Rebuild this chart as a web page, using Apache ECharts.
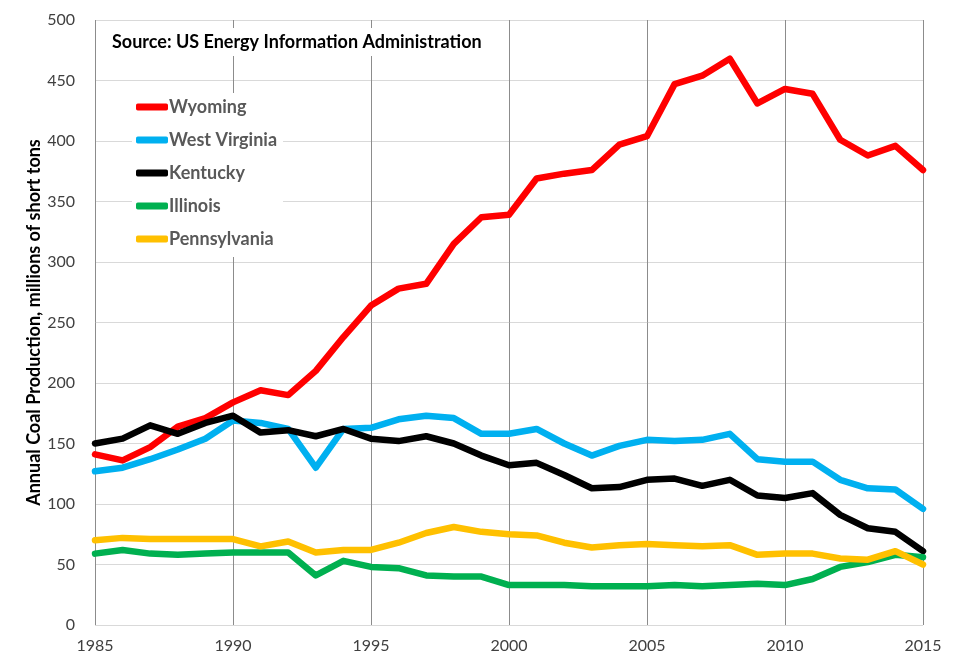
<!DOCTYPE html>
<html>
<head>
<meta charset="utf-8">
<title>Coal production by state</title>
<script src="https://cdn.jsdelivr.net/npm/echarts@6/dist/echarts.min.js"></script>
<style>
    html, body { margin: 0; padding: 0; background: #fff; }
    #chart { width: 960px; height: 666px; }
</style>
</head>
<body>
<div id="chart"></div>
<script>
const years = [1985, 1986, 1987, 1988, 1989, 1990, 1991, 1992, 1993, 1994, 1995, 1996, 1997, 1998, 1999,
    2000, 2001, 2002, 2003, 2004, 2005, 2006, 2007, 2008, 2009, 2010, 2011, 2012, 2013, 2014, 2015];

// millions of short tons
const wyoming = [141, 136, 147, 164, 171, 184, 194, 190, 210, 238, 264, 278, 282, 315, 337,
    339, 369, 373, 376, 397, 404, 447, 454, 468, 431, 443, 439, 401, 388, 396, 376];
const westVirginia = [127, 130, 137, 145, 154, 169, 167, 162, 130, 162, 163, 170, 173, 171, 158,
    158, 162, 150, 140, 148, 153, 152, 153, 158, 137, 135, 135, 120, 113, 112, 96];
const kentucky = [150, 154, 165, 158, 167, 173, 159, 161, 156, 162, 154, 152, 156, 150, 140,
    132, 134, 124, 113, 114, 120, 121, 115, 120, 107, 105, 109, 91, 80, 77, 61];
const illinois = [59, 62, 59, 58, 59, 60, 60, 60, 41, 53, 48, 47, 41, 40, 40,
    33, 33, 33, 32, 32, 32, 33, 32, 33, 34, 33, 38, 48, 52, 58, 56];
const pennsylvania = [70, 72, 71, 71, 71, 71, 65, 69, 60, 62, 62, 68, 76, 81, 77,
    75, 74, 68, 64, 66, 67, 66, 65, 66, 58, 59, 59, 55, 54, 61, 50];

const stateNames = ["Wyoming", "West Virginia", "Kentucky", "Illinois", "Pennsylvania"];
const stateValues = [wyoming, westVirginia, kentucky, illinois, pennsylvania];
const stateColors = ["#ff0000", "#00b0f0", "#000000", "#00b050", "#ffc000"];

const chart = echarts.init(document.getElementById("chart"));

const font = "Lato, 'Open Sans', sans-serif";

const option = {
    backgroundColor: "#fff",
    animation: false,
    title: {
        text: "Source: US Energy Information Administration",
        left: 96,
        top: 28,
        padding: [5, 18, 5, 16],
        backgroundColor: "#fff",
        textStyle: { fontFamily: font, fontSize: 18, fontWeight: "bold", color: "#000" }
    },
    legend: {
        orient: "vertical",
        left: 132,
        top: 93,
        padding: [4, 6, 8, 4],
        backgroundColor: "#fff",
        data: stateNames,
        icon: "roundRect",
        itemWidth: 32,
        itemHeight: 7,
        itemGap: 13,
        textStyle: { fontFamily: font, fontSize: 18, fontWeight: "bold", color: "#595959", lineHeight: 20, padding: [0, 0, 0, -4] }
    },
    grid: { left: 95, right: 37, top: 20, bottom: 41 },
    xAxis: {
        type: "value",
        min: 1985,
        max: 2015,
        interval: 5,
        axisLine: { show: false },
        axisTick: { show: false },
        axisLabel: { fontFamily: font, fontSize: 16, color: "#404040", margin: 13, formatter: v => String(v) },
        splitLine: { show: true, lineStyle: { color: "#8c8c8c", width: 1 } }
    },
    yAxis: {
        type: "value",
        min: 0,
        max: 500,
        interval: 50,
        name: "Annual Coal Production, millions of short tons",
        nameLocation: "middle",
        nameGap: 52,
        nameMoveOverlap: false,
        nameTextStyle: { fontFamily: font, fontSize: 18, fontWeight: "bold", color: "#000" },
        axisLine: { show: false },
        axisTick: { show: false },
        axisLabel: { fontFamily: font, fontSize: 16, color: "#404040", margin: 20 },
        splitLine: { lineStyle: { color: "#d9d9d9", width: 1 } }
    },
    series: stateNames.map((name, i) => ({
        name: name,
        type: "line",
        data: years.map((y, j) => [y, stateValues[i][j]]),
        showSymbol: false,
        symbol: "none",
        color: stateColors[i],
        lineStyle: { width: 6.5, color: stateColors[i], cap: "round", join: "round" },
        z: 2 + i
    }))
};

chart.setOption(option);
</script>
</body>
</html>
